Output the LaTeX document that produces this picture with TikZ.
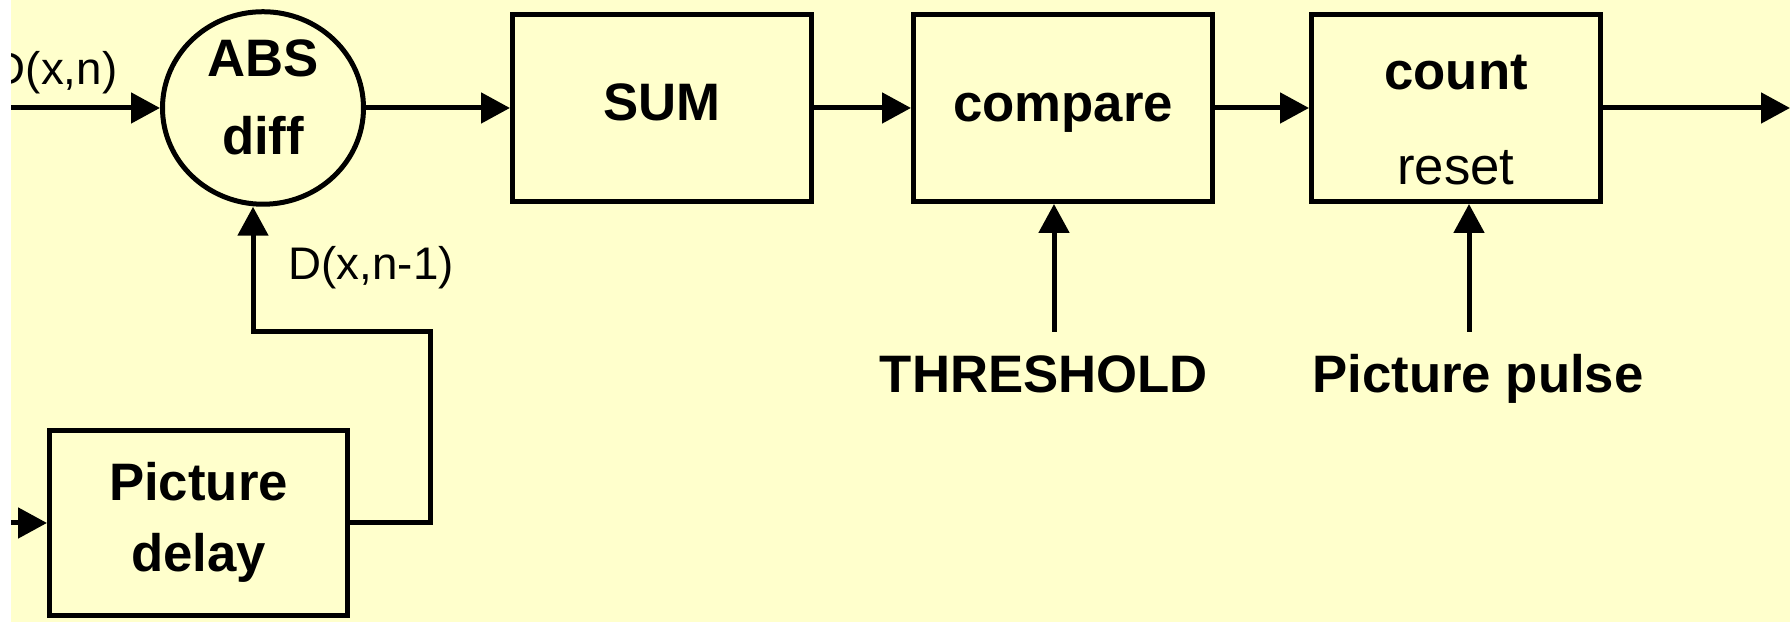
\documentclass[tikz,border=0pt]{standalone}
\usepackage{fontspec}
\setmainfont{Liberation Sans}
\usetikzlibrary{arrows.meta, shapes.geometric}
\definecolor{paperbg}{HTML}{FFFFCC}
\definecolor{marginbg}{HTML}{FFFFFF}

\begin{document}
\begin{tikzpicture}[
  blk/.style={rectangle, draw=black, line width=0.05cm, minimum width=2.99cm,
              minimum height=1.87cm, align=center, inner sep=0pt,
              font=\fontsize{15}{20}\selectfont\bfseries},
  opr/.style={ellipse, draw=black, line width=0.05cm, minimum width=2.01cm,
              minimum height=1.89cm, align=center, inner sep=0pt,
              font=\fontsize{15}{22}\selectfont\bfseries},
  sig/.style={draw=black, line width=0.05cm, -{Triangle[length=2.9mm, width=3mm]}},
  lab/.style={inner sep=0pt, font=\fontsize{13}{15}\selectfont},
  blab/.style={inner sep=0pt, font=\fontsize{15}{18}\selectfont\bfseries},
]
\useasboundingbox (0, 0) rectangle (17.9, 6.22);
\fill[paperbg] (0, 0) rectangle (17.9, 6.22);
% ---- main chain: abs diff -> sum -> compare -> count
\node[opr] (absdiff) at (2.63, 5.14) {ABS\\diff\rule[-0.22cm]{0pt}{0pt}};
\node[blk] (sumblk) at (6.62, 5.14) {SUM\rule[-0.12cm]{0pt}{0pt}};
\node[blk] (cmpblk) at (10.63, 5.14) {\rule{0pt}{0.37cm}compare};
\node[blk, minimum width=2.89cm] (cntblk) at (14.56, 5.14)
  {\rule{0pt}{0.59cm}count\\[7pt]{\mdseries reset}};
\coordinate (vin) at (0.11, 5.14);
\coordinate (vout) at (17.9, 5.14);
\node[lab, anchor=base east] (dnow) at (1.18, 5.37) {D(x,n)};
\draw[sig] (vin) -- (absdiff.west);
\draw[sig] (absdiff.east) -- (sumblk.west);
\draw[sig] (sumblk.east) -- (cmpblk.west);
\draw[sig] (cmpblk.east) -- (cntblk.west);
\draw[sig] (cntblk.east) -- (vout);
% ---- side inputs from below
\node[blab, anchor=base] (thr) at (10.44, 2.29) {THRESHOLD};
\node[blab, anchor=base] (pulse) at (14.78, 2.29) {Picture pulse};
\coordinate (thrtop) at (10.54, 2.90);
\coordinate (pulsetop) at (14.69, 2.90);
\draw[sig] (thrtop) -- (thrtop |- cmpblk.south);
\draw[sig] (pulsetop) -- (pulsetop |- cntblk.south);
% ---- picture delay feedback into abs diff
\node[blk, minimum width=2.98cm, minimum height=1.85cm] (delay) at (1.985, 0.99)
  {Picture\\delay\rule[-0.12cm]{0pt}{0pt}};
\coordinate (din) at (0.11, 0.99);
\coordinate (fbturn) at (4.30, 2.90);
\coordinate (fbtop) at (2.53, 2.90);
\draw[sig] (din) -- (delay.west);
\draw[sig] (delay.east) -| (fbturn) -- (fbtop) -- (fbtop |- absdiff.south);
\node[lab, anchor=base west] (dprev) at (2.88, 3.42) {D(x,n-1)};
% left margin of the page
\fill[marginbg] (0, 0) rectangle (0.11, 6.22);
\end{tikzpicture}
\end{document}
